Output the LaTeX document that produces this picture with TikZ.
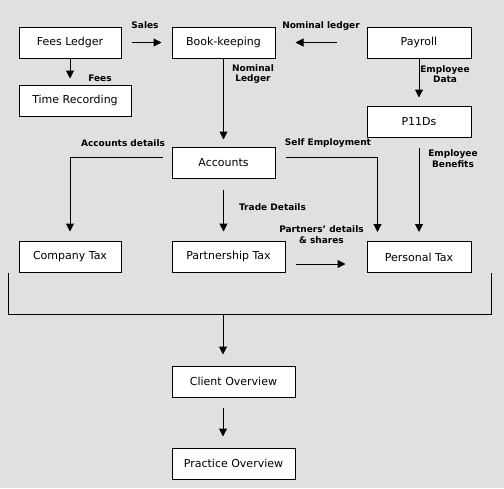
\documentclass[tikz,border=0pt]{standalone}
\usepackage{fontspec}
\setmainfont{DejaVu Sans}
\usetikzlibrary{arrows.meta,calc}
\definecolor{bg}{RGB}{224,224,224}
\begin{document}
\begin{tikzpicture}[x=1pt,y=-1pt,
  box/.style={draw,fill=white,line width=1pt,minimum height=31pt,inner sep=0pt,
    font=\fontsize{11}{12}\selectfont},
  lbl/.style={inner sep=0pt,align=center,font=\fontsize{9}{10.5}\selectfont\bfseries},
  ln/.style={line width=1pt},
  arr/.style={line width=1pt,-{Triangle[length=8pt,width=8pt]}}]
\fill[bg] (0,0) rectangle (504,488);
\useasboundingbox (0,0) rectangle (504,488);
% boxes
\node[box,minimum width=102pt] (fees) at (70,42.5) {Fees Ledger};
\node[box,minimum width=112pt] (time) at (75,100.5) {Time Recording};
\node[box,minimum width=103pt] (book) at (223.5,42.5) {Book-keeping};
\node[box,minimum width=104pt] (payroll) at (419,42.5) {Payroll};
\node[box,minimum width=104pt] (p11d) at (419,121.5) {P11Ds};
\node[box,minimum width=103pt] (accounts) at (223.5,162.5) {Accounts};
\node[box,minimum width=102pt] (company) at (70,256.5) {Company Tax};
\node[box,minimum width=113pt] (partner) at (228.5,256.5) {Partnership Tax};
\node[box,minimum width=104pt] (personal) at (419,257) {Personal Tax};
\node[box,minimum width=123pt] (client) at (233.5,381.5) {Client Overview};
\node[box,minimum width=123pt] (practice) at (233.5,463.5) {Practice Overview};
% labels
\node[lbl] (lsales) at (145,25.5) {Sales};
\node[lbl] (lfees) at (100,78) {Fees};
\node[lbl] (lnomledger) at (321,26) {Nominal ledger};
\node[lbl] (lnomLedger) at (253,74) {Nominal\\Ledger};
\node[lbl] (lempdata) at (445,74) {Employee\\Data};
\node[lbl] (laccdet) at (123,143.5) {Accounts details};
\node[lbl] (lself) at (328,143.5) {Self Employment};
\node[lbl] (lempben) at (453,158.5) {Employee\\Benefits};
\node[lbl] (ltrade) at (272.5,207) {Trade Details};
\node[lbl] (lpartners) at (321.5,234.5) {Partners\char"0027\ details\\\& shares};
% connectors
\draw[arr,shorten <=10pt,shorten >=10pt] (fees.east) -- (book.west);
\draw[arr,shorten >=6pt] (fees.south) -- (fees.south |- time.north);
\draw[arr,shorten <=30pt,shorten >=20pt] (payroll.west) -- (book.east);
\draw[arr,shorten >=7pt] (book.south) -- (accounts.north);
\draw[arr,shorten >=8pt] (payroll.south) -- (p11d.north);
\draw[arr,shorten <=9pt,shorten >=9pt] ($(accounts.west)+(0,-5)$) -| (company.north);
\draw[arr,shorten <=11pt,shorten >=9pt] (accounts.south) -- (accounts.south |- partner.north);
\draw[arr,shorten <=10pt,shorten >=9pt] ($(accounts.east)+(0,-5)$) -| ($(personal.north west)+(11,0)$);
\draw[arr,shorten <=10pt,shorten >=9pt] (p11d.south) -- (personal.north);
\draw[arr,shorten <=10pt,shorten >=21pt] ($(partner.east)+(0,7.5)$) -- ($(personal.west)+(0,7)$);
% bracket
\coordinate (bl) at (8,273);
\coordinate (br) at (491,273);
\coordinate (bm) at (223,314);
\draw[ln] (bl) -- (bl |- bm) -- (br |- bm) -- (br);
\draw[arr,shorten >=11pt] (bm) -- (bm |- client.north);
\draw[arr,shorten <=10pt,shorten >=11pt] (client.south -| bm) -- (bm |- practice.north);
\end{tikzpicture}
\end{document}
